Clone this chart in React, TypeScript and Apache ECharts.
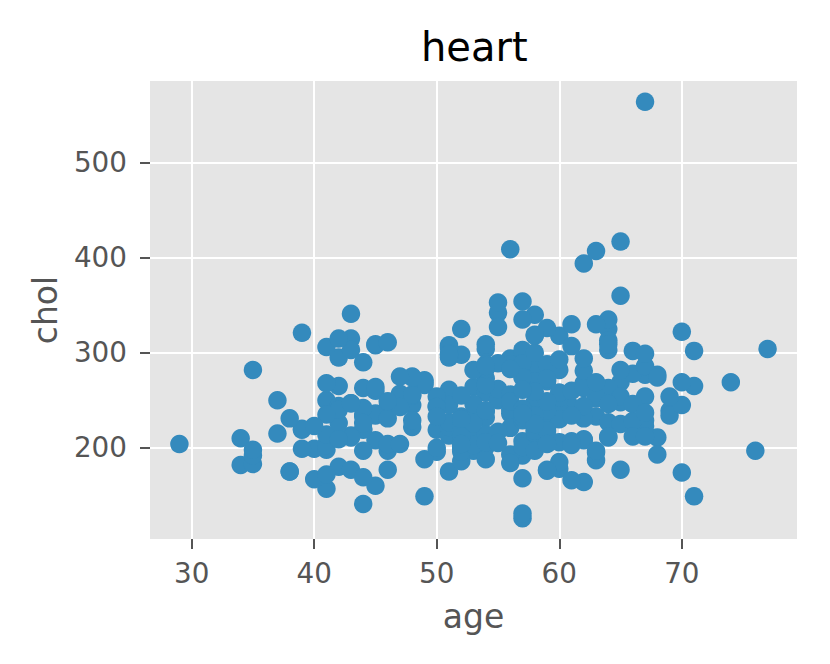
import React, { useEffect, useRef } from "react";
import * as echarts from "echarts";

const TITLE = "heart";
const X_NAME = "age";
const Y_NAME = "chol";
const X_TICKS = [30, 40, 50, 60, 70];
const Y_TICKS = [200, 300, 400, 500];

const ages = [
  63, 37, 41, 56, 57, 57, 56, 44, 52, 57, 54, 48, 49, 64, 58, 50, 58, 66, 43, 69,
  59, 44, 42, 61, 40, 71, 59, 51, 65, 53, 41, 65, 44, 54, 51, 46, 54, 54, 65, 65,
  51, 48, 45, 53, 39, 52, 44, 47, 53, 53, 51, 66, 62, 44, 63, 52, 48, 45, 34, 57,
  71, 54, 52, 41, 58, 35, 51, 45, 44, 62, 54, 51, 29, 51, 43, 55, 51, 59, 52, 58,
  41, 45, 60, 52, 42, 67, 68, 46, 54, 58, 48, 57, 52, 54, 45, 53, 62, 52, 43, 53,
  42, 59, 63, 42, 50, 68, 69, 45, 50, 50, 64, 57, 64, 43, 55, 37, 41, 56, 46, 46,
  64, 59, 41, 54, 39, 34, 47, 67, 52, 74, 54, 49, 42, 41, 41, 49, 60, 62, 57, 64,
  51, 43, 42, 67, 76, 70, 44, 60, 44, 42, 66, 71, 64, 66, 39, 58, 47, 35, 58, 56,
  56, 55, 41, 38, 38,
  67, 67, 62, 63, 53, 56, 48, 58, 58, 60, 40, 60, 64, 43, 57, 55, 65, 61, 58, 50,
  44, 60, 54, 50, 41, 51, 58, 54, 60, 60, 59, 46, 67, 62, 65, 44, 60, 58, 68, 62,
  52, 59, 60, 49, 59, 57, 61, 39, 61, 56, 43, 62, 63, 65, 48, 63, 55, 65, 56, 54,
  70, 62, 35, 59, 64, 47, 57, 55, 64, 70, 51, 58, 60, 77, 35, 70, 59, 64, 57, 56,
  48, 56, 66, 54, 69, 51, 43, 62, 67, 59, 45, 58, 50, 62, 38, 66, 52, 53, 63, 54,
  66, 55, 49, 54, 56, 46, 61, 67, 58, 47, 52, 58, 57, 58, 61, 42, 52, 59, 40, 61,
  46, 59, 57, 57, 55, 61, 58, 58, 67, 44, 63, 63, 59, 57, 45, 68, 57, 57,
];

const chol = [
  233, 250, 204, 236, 354, 192, 294, 263, 199, 168, 239, 275, 266, 211, 283, 219, 340, 226, 247, 239,
  234, 233, 226, 243, 199, 302, 212, 175, 417, 197, 198, 177, 219, 273, 213, 177, 304, 232, 269, 360,
  308, 245, 208, 264, 321, 325, 235, 257, 216, 234, 256, 302, 231, 141, 252, 201, 222, 260, 182, 303,
  265, 309, 186, 203, 211, 183, 222, 234, 220, 209, 258, 227, 204, 261, 213, 250, 245, 221, 205, 240,
  250, 308, 318, 298, 265, 564, 277, 197, 214, 248, 255, 207, 223, 288, 160, 226, 394, 233, 315, 246,
  244, 270, 195, 240, 196, 211, 234, 236, 244, 254, 325, 126, 313, 211, 262, 215, 214, 193, 204, 243,
  303, 271, 268, 267, 199, 210, 204, 277, 196, 269, 201, 271, 295, 235, 306, 269, 178, 208, 201, 263,
  295, 303, 209, 223, 197, 245, 242, 240, 226, 180, 228, 149, 227, 278, 220, 197, 253, 192, 220, 221,
  240, 342, 157, 175, 175,
  286, 229, 268, 254, 203, 256, 229, 284, 224, 206, 167, 230, 335, 177, 276, 353, 225, 330, 230, 243,
  290, 253, 266, 233, 172, 305, 216, 188, 282, 185, 326, 231, 254, 267, 248, 197, 258, 270, 274, 164,
  255, 239, 258, 188, 177, 229, 260, 219, 307, 249, 341, 263, 330, 254, 256, 407, 217, 282, 288, 239,
  174, 281, 198, 288, 309, 243, 289, 289, 246, 322, 299, 300, 293, 304, 282, 269, 249, 212, 274, 184,
  274, 409, 246, 283, 254, 298, 247, 294, 299, 273, 309, 259, 200, 244, 231, 228, 230, 282, 269, 206,
  212, 327, 149, 286, 283, 249, 234, 237, 234, 275, 212, 218, 261, 319, 166, 315, 204, 218, 223, 207,
  311, 204, 232, 335, 205, 203, 318, 225, 212, 169, 187, 197, 176, 241, 264, 193, 131, 236,
];

export default function App() {
  const ref = useRef<HTMLDivElement>(null);

  useEffect(() => {
    document.body.style.margin = "0";
    if (!ref.current) return;
    const chart = echarts.init(ref.current, null, { renderer: "svg" });

    const xMin = Math.min(...ages);
    const xMax = Math.max(...ages);
    const yMin = Math.min(...chol);
    const yMax = Math.max(...chol);
    const xPad = (xMax - xMin) * 0.05;
    const yPad = (yMax - yMin) * 0.05;
    const data = ages.map((a, i) => [a, chol[i]]);

    const font = "DejaVu Sans";
    chart.setOption({
      animation: false,
      backgroundColor: "#ffffff",
      textStyle: { fontFamily: font },
      title: {
        text: TITLE,
        left: 421,
        top: 27,
        padding: 0,
        textStyle: { fontFamily: font, fontSize: 40, fontWeight: "normal", color: "#000000" },
      },
      grid: {
        left: 150,
        top: 81,
        right: 33,
        bottom: 125,
        show: true,
        backgroundColor: "#E5E5E5",
        borderWidth: 0,
      },
      xAxis: {
        type: "value",
        min: xMin - xPad,
        max: xMax + xPad,
        name: X_NAME,
        nameLocation: "middle",
        nameGap: 61,
        nameTextStyle: { fontFamily: font, fontSize: 33, color: "#555555" },
        axisLine: { show: false },
        axisTick: {
          show: true,
          length: 10,
          customValues: X_TICKS,
          lineStyle: { color: "#555555", width: 2 },
        },
        axisLabel: {
          customValues: X_TICKS,
          margin: 20,
          fontFamily: font,
          fontSize: 27.8,
          color: "#555555",
        },
        splitLine: { show: true, lineStyle: { color: "#ffffff", width: 2 } },
      },
      yAxis: {
        type: "value",
        min: yMin - yPad,
        max: yMax + yPad,
        name: Y_NAME,
        nameLocation: "middle",
        nameGap: 88,
        nameTextStyle: { fontFamily: font, fontSize: 33, color: "#555555" },
        axisLine: { show: false },
        axisTick: {
          show: true,
          length: 10,
          customValues: Y_TICKS,
          lineStyle: { color: "#555555", width: 2 },
        },
        axisLabel: {
          customValues: Y_TICKS,
          margin: 23,
          fontFamily: font,
          fontSize: 27.8,
          color: "#555555",
        },
        splitLine: { show: true, lineStyle: { color: "#ffffff", width: 2 } },
      },
      series: [
        {
          type: "scatter",
          data,
          symbol: "circle",
          symbolSize: 18.5,
          itemStyle: { color: "#348ABD", opacity: 1 },
          emphasis: { disabled: true },
        },
      ],
    });

    return () => chart.dispose();
  }, []);

  return <div ref={ref} style={{ width: 830, height: 664 }} />;
}
